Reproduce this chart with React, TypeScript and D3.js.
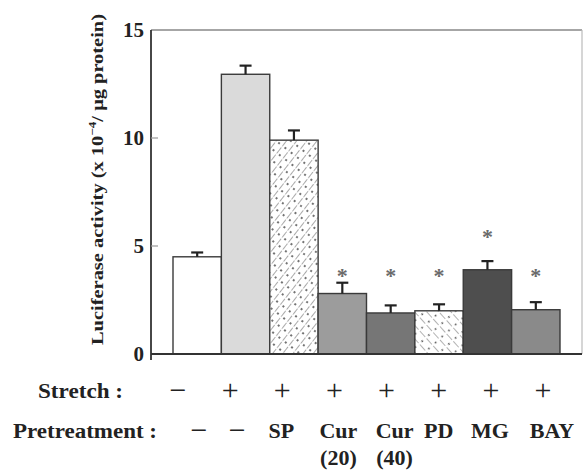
import React from 'react';
import * as d3 from 'd3';

// data
const stretch = ['−', '+', '+', '+', '+', '+', '+', '+'];
const pretreatment = ['−', '−', 'SP', 'Cur', 'Cur', 'PD', 'MG', 'BAY'];
const dose = ['', '', '', '(20)', '(40)', '', '', ''];
const values = [4.5, 12.95, 9.9, 2.8, 1.9, 2.0, 3.9, 2.05];
const errors = [0.2, 0.4, 0.45, 0.5, 0.35, 0.3, 0.4, 0.35];
const starAt: (number | null)[] = [null, null, null, 4, 4, 4, 5.8, 4];
const yTicks = [0, 5, 10, 15];

const FILLS = ['#ffffff', '#dadada', 'url(#hatchFwd)', '#9c9c9c', '#767676', 'url(#hatchBack)', '#4e4e4e', '#8a8a8a'];
const FONT = '"Liberation Serif", "Times New Roman", serif';

const W = 583;
const H = 471;
const left = 151;
const right = 582;
const top = 30;
const bottom = 354;

export default function App() {
  const idx = values.map((_, i) => i);
  const x = d3.scaleBand<number>().domain(idx).range([173, 560]).padding(0);
  const y = d3.scaleLinear().domain([0, 15]).range([bottom, top]);
  // row labels sit on their own evenly spaced grid, pretreatment names nudged as in the figure
  const lx = d3.scalePoint<number>().domain(idx).range([178, 543]);
  const preDx = [21, 7, -1, 4, 8, 0, -1, 9];

  return (
    <svg width={W} height={H} style={{ position: 'absolute', left: 0, top: 0, background: '#fff' }}
      fontFamily={FONT}>
      <defs>
        <pattern id="hatchFwd" width="8" height="9" patternUnits="userSpaceOnUse" patternTransform="rotate(38)">
          <rect width="8" height="9" fill="#fff" />
          <line x1="0" y1="0" x2="0" y2="9" stroke="#555" strokeWidth="1" strokeDasharray="4.5 1.5" />
          <circle cx="4" cy="4" r="1" fill="#444" />
        </pattern>
        <pattern id="hatchBack" width="9" height="10" patternUnits="userSpaceOnUse" patternTransform="rotate(-42)">
          <rect width="9" height="10" fill="#fff" />
          <line x1="0" y1="0" x2="0" y2="10" stroke="#666" strokeWidth="1" strokeDasharray="5 2" />
          <circle cx="4.5" cy="6" r="0.9" fill="#555" />
        </pattern>
      </defs>

      {/* frame */}
      <line x1={left} x2={right} y1={top} y2={top} stroke="#888" strokeWidth={1.5} />
      <line x1={right} x2={right} y1={top} y2={bottom} stroke="#bbb" strokeWidth={1.2} />

      {/* bars */}
      {values.map((v, i) => (
        <rect key={'b' + i} x={x(i)} y={y(v)} width={x.bandwidth()} height={y(0) - y(v)}
          fill={FILLS[i]} stroke="#3a3a3a" strokeWidth={1.4} />
      ))}

      {/* error bars */}
      {values.map((v, i) => {
        const cx = (x(i) as number) + x.bandwidth() / 2;
        return (
          <g key={'e' + i} stroke="#222" strokeWidth={2.2}>
            <line x1={cx} x2={cx} y1={y(v)} y2={y(v + errors[i])} />
            <line x1={cx - 6} x2={cx + 6} y1={y(v + errors[i])} y2={y(v + errors[i])} />
          </g>
        );
      })}

      {/* significance marks */}
      {starAt.map((s, i) => s == null ? null : (
        <text key={'s' + i} x={(x(i) as number) + x.bandwidth() / 2} y={y(s)} dy="0.7em"
          textAnchor="middle" fontSize={22} fontWeight="bold" fill="#6a6a6a">*</text>
      ))}

      {/* axes */}
      <line x1={left} x2={left} y1={top} y2={bottom + 6} stroke="#333" strokeWidth={1.8} />
      <line x1={left} x2={right} y1={bottom} y2={bottom} stroke="#333" strokeWidth={2} />
      {yTicks.map(t => (
        <g key={'t' + t}>
          {t > 0 && t < 15 && <line x1={left} x2={left + 7} y1={y(t)} y2={y(t)} stroke="#999" strokeWidth={1.2} />}
          <text x={144} y={y(t)} dy="0.35em" textAnchor="end" fontSize={21} fontWeight="bold" fill="#222">{t}</text>
        </g>
      ))}

      {/* y label */}
      <text transform={`translate(97,${(14 + 345) / 2}) rotate(-90)`} textAnchor="middle" dy="0.35em"
        fontSize={17} fontWeight="bold" fill="#222" textLength={331} lengthAdjust="spacingAndGlyphs">
        Luciferase activity (x 10<tspan dy="-7" fontSize={11}>−4</tspan><tspan dy="7">/ μg protein)</tspan>
      </text>

      {/* condition rows */}
      <text x={38} y={398} fontSize={22} fontWeight="bold" fill="#222" textLength={85} lengthAdjust="spacingAndGlyphs">Stretch :</text>
      {stretch.map((s, i) => (
        <text key={'st' + i} x={lx(i)} y={400} textAnchor="middle" fontSize={30} fill="#222">{s}</text>
      ))}
      <text x={13} y={438} fontSize={22} fontWeight="bold" fill="#222" textLength={144} lengthAdjust="spacingAndGlyphs">Pretreatment :</text>
      {pretreatment.map((p, i) => (
        <text key={'p' + i} x={(lx(i) as number) + preDx[i]} y={p === '−' ? 440 : 438} textAnchor="middle"
          fontSize={p === '−' ? 30 : 22} fontWeight={p === '−' ? 'normal' : 'bold'} fill="#222">{p}</text>
      ))}
      {dose.map((d, i) => d ? (
        <text key={'d' + i} x={(lx(i) as number) + preDx[i]} y={465} textAnchor="middle" fontSize={22} fontWeight="bold" fill="#222">{d}</text>
      ) : null)}
    </svg>
  );
}
